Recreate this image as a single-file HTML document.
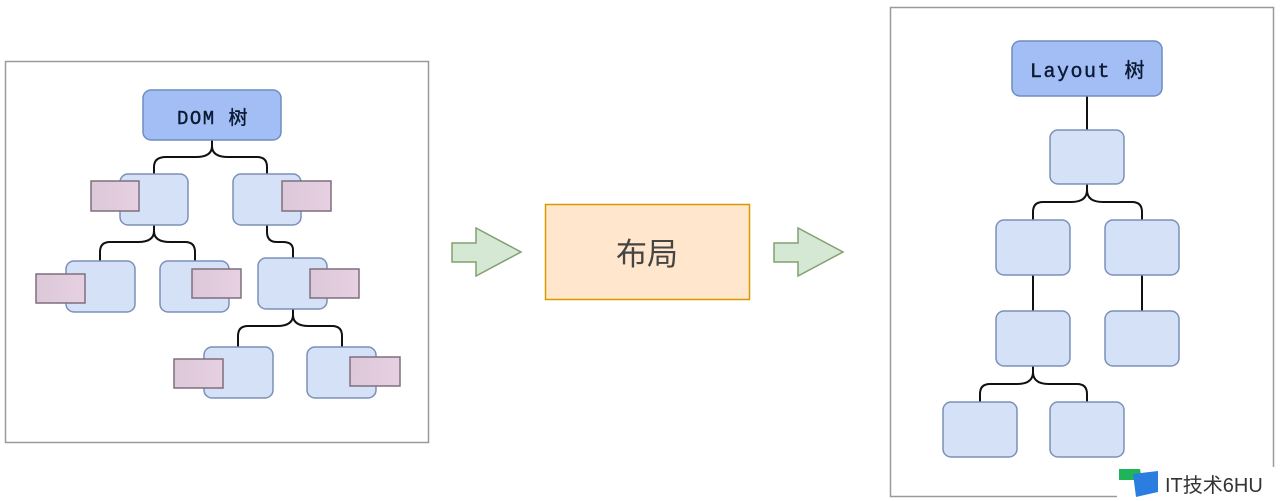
<!DOCTYPE html>
<html><head><meta charset="utf-8"><style>
html,body{margin:0;padding:0;background:#fff;width:1280px;height:501px;overflow:hidden}
</style></head><body>
<svg width="1280" height="501" viewBox="0 0 1280 501" xmlns="http://www.w3.org/2000/svg">
<defs>
<linearGradient id="pg" x1="0" y1="0" x2="1" y2="0"><stop offset="0" stop-color="#dcc8d8"/><stop offset="1" stop-color="#e6d0e2"/></linearGradient>
</defs>
<g fill="none" stroke="#9a9a9a" stroke-width="1.5">
<rect x="5.5" y="61.5" width="423" height="381"/>
<rect x="890.5" y="7.5" width="383" height="489"/>
</g>
<g fill="none" stroke="#111" stroke-width="2">
<path d="M212 140 V146 Q212 157 196 157 H166 Q154 157 154 167 V174"/>
<path d="M212 146 Q212 157 228 157 H257 Q267 157 267 167 V174"/>
<path d="M154 225 V231 Q154 242 138 242 H110 Q100 242 100 252 V261"/>
<path d="M154 231 Q154 242 170 242 H185 Q195 242 195 252 V261"/>
<path d="M267 225 V232 Q267 242 277 242 H283 Q293 242 293 250 V258"/>
<path d="M293 309 V315 Q293 326 277 326 H248 Q238 326 238 336 V347"/>
<path d="M293 315 Q293 326 309 326 H332 Q342 326 342 336 V347"/>
<path d="M1087 96 V130"/>
<path d="M1087 184 V190 Q1087 202 1071 202 H1043 Q1033 202 1033 212 V220"/>
<path d="M1087 190 Q1087 202 1103 202 H1132 Q1142 202 1142 212 V220"/>
<path d="M1033 275 V311"/><path d="M1142 275 V311"/>
<path d="M1033 366 V372 Q1033 384 1017 384 H990 Q980 384 980 394 V402"/>
<path d="M1033 372 Q1033 384 1049 384 H1077 Q1087 384 1087 394 V402"/>
</g>
<rect x="143" y="90" width="138" height="50" rx="8" fill="#a3bdf5" stroke="#6c8ebf" stroke-width="1.5"/>
<text x="213" y="124" text-anchor="middle" font-family="Liberation Mono, Noto Sans CJK SC, monospace" font-size="19" letter-spacing="1.5" fill="#0b1a33" stroke="#0b1a33" stroke-width="0.4">DOM 树</text>
<g fill="#d4e1f7" stroke="#7b90b8" stroke-width="1.5">
<rect x="120" y="174" width="68" height="51" rx="8"/>
<rect x="233" y="174" width="68" height="51" rx="8"/>
<rect x="66" y="261" width="69" height="51" rx="8"/>
<rect x="160" y="261" width="69" height="51" rx="8"/>
<rect x="258" y="258" width="69" height="51" rx="8"/>
<rect x="204" y="347" width="69" height="51" rx="8"/>
<rect x="307" y="347" width="69" height="51" rx="8"/>
</g>
<g fill="url(#pg)" stroke="#7f6f7d" stroke-width="1.5">
<rect x="91" y="181" width="48" height="30"/>
<rect x="282" y="181" width="49" height="30"/>
<rect x="36" y="274" width="49" height="29"/>
<rect x="192" y="269" width="49" height="29"/>
<rect x="310" y="269" width="49" height="29"/>
<rect x="174" y="359" width="49" height="29"/>
<rect x="350" y="357" width="50" height="29"/>
</g>
<g fill="#d5e8d4" stroke="#82a070" stroke-width="1.5">
<path d="M452 243 H476 V228 L521 252 L476 276 V262 H452 Z"/>
<path d="M774 243 H798 V228 L843 252 L798 276 V262 H774 Z"/>
</g>
<rect x="545.5" y="204.5" width="204" height="95" fill="#ffe6cc" stroke="#d79b00" stroke-width="1.5"/>
<text x="647" y="265" text-anchor="middle" font-family="Liberation Sans, Noto Sans CJK SC, sans-serif" font-size="31" fill="#444">布局</text>
<rect x="1012" y="41" width="150" height="55" rx="8" fill="#a3bdf5" stroke="#6c8ebf" stroke-width="1.5"/>
<text x="1088" y="77" text-anchor="middle" font-family="Liberation Mono, Noto Sans CJK SC, monospace" font-size="20" letter-spacing="1.5" fill="#0b1a33" stroke="#0b1a33" stroke-width="0.4">Layout 树</text>
<g fill="#d4e1f7" stroke="#7b90b8" stroke-width="1.5">
<rect x="1050" y="130" width="74" height="54" rx="8"/>
<rect x="996" y="220" width="74" height="55" rx="8"/>
<rect x="1105" y="220" width="74" height="55" rx="8"/>
<rect x="996" y="311" width="74" height="55" rx="8"/>
<rect x="1105" y="311" width="74" height="55" rx="8"/>
<rect x="943" y="402" width="74" height="55" rx="8"/>
<rect x="1050" y="402" width="74" height="55" rx="8"/>
</g>
<rect x="1117" y="467" width="163" height="34" fill="#fff"/>
<path d="M1119 469 H1140 L1142 480 H1119 Z" fill="#1fb35a"/>
<path d="M1133 474 L1158 471 V492 L1136 497 Z" fill="#2b7de0"/>
<text x="1165" y="492" font-family="Liberation Sans, Noto Sans CJK SC, sans-serif" font-size="20" fill="#333">IT技术6HU</text>
</svg>
</body></html>
